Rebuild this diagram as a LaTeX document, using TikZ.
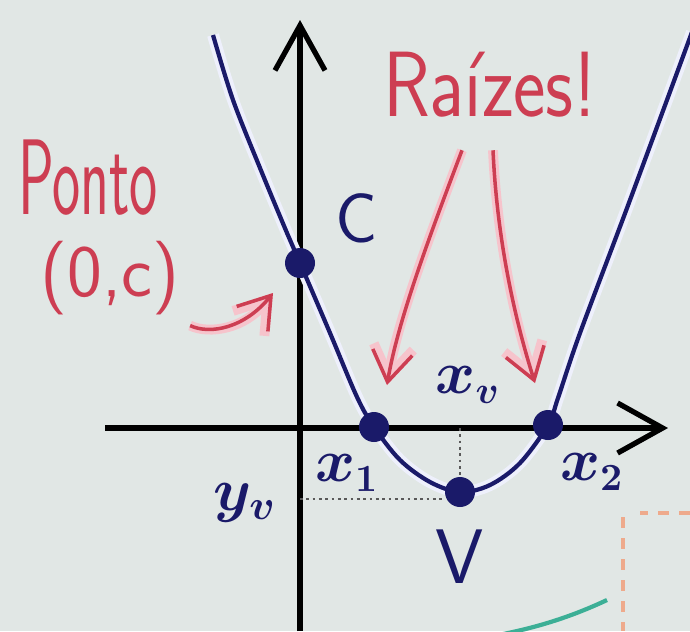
\documentclass[tikz,border=0pt]{standalone}
\usepackage{fontspec}
\usepackage{graphicx}
\usetikzlibrary{arrows.meta,positioning}
\definecolor{board}{RGB}{225,231,229}
\definecolor{navy}{RGB}{26,26,105}
\definecolor{marker}{RGB}{205,62,82}
\definecolor{halo}{RGB}{246,196,204}
\definecolor{glow}{RGB}{238,240,252}
\definecolor{tealmark}{RGB}{60,175,150}
\definecolor{peach}{RGB}{238,170,140}
\newcommand{\tallword}[2]{\scalebox{1}[#1]{#2}}

\begin{document}
\begin{tikzpicture}[x=0.1mm,y=-0.1mm,>=Latex]
  \tikzset{
    axis/.style={line width=1.5pt,black,-{Straight Barb[length=4.5mm,width=5mm]}},
    curve/.style={line width=1.2pt,navy,preaction={draw=glow,line width=3.4pt}},
    dot/.style={circle,fill=navy,inner sep=0pt,minimum size=3mm},
    pinkarrow/.style={line width=1pt,marker,-{Straight Barb[length=3mm,width=4mm]},
      preaction={draw=halo,line width=2.8pt}},
    guide/.style={densely dotted,line width=0.8pt,black!65},
    redword/.style={marker,inner sep=0pt,font=\sffamily\fontsize{#1}{#1}\selectfont},
    blueword/.style={navy,inner sep=0pt,font=\sffamily\fontsize{#1}{#1}\selectfont},
    mathword/.style={navy,inner sep=0pt,font=\fontsize{#1}{#1}\selectfont\boldmath}
  }
  % board and frame
  \fill[board] (0,0) rectangle (690,631);
  \useasboundingbox (0,0) rectangle (690,631);

  % marks of the board behind
  \draw[peach,dashed,line width=1pt] (690,513) -- (640,513);
  \draw[peach,dashed,line width=1pt] (623,517) -- (623,631);
  \draw[tealmark,line width=1.2pt] (607,600) .. controls (560,622) and (520,632) .. (470,640);

  % axes
  \coordinate (xstart) at (105,428);
  \coordinate (xend) at (668,428);
  \coordinate (ystart) at (300,631);
  \coordinate (yend) at (300,20);
  \draw[axis] (xstart) -- (xend);
  \draw[axis] (ystart) -- (yend);

  % the parabola
  \draw[curve] plot[smooth,tension=0.55] coordinates {
    (213,35) (233,100) (260,168) (287,233) (300,263) (330,333) (357,397)
    (374,427) (400,460) (430,482) (460,492) (490,485) (520,463) (548,425)
    (558,398) (580,333) (630,200) (692,32)};

  % marked points
  \node[dot] (C) at (300,263) {};
  \node[dot] (x1) at (374,427) {};
  \node[dot] (vtx) at (460,492) {};
  \node[dot] (x2) at (548,425) {};

  % vertex guides
  \coordinate (yv) at (300,499);
  \draw[guide] (vtx |- xstart) -- (vtx.north);
  \draw[guide] (yv) -- (yv -| vtx.west);

  % labels
  \node[blueword=20] (Clabel) at (357,218) {C};
  \node[blueword=22] (Vlabel) at (460,557) {V};
  \node[mathword=16] (xvlabel) at (468,385) {$x_v$};
  \node[mathword=16] (x1label) at (347,473) {$x_1$};
  \node[mathword=16] (x2label) at (592,472) {$x_2$};
  \node[mathword=18] (yvlabel) at (245,503) {$y_v$};

  % red notes
  \node[redword=17] (ponto) at (88,178) {\tallword{1.8}{Ponto}};
  \node[redword=21] (pc) at (110,278) {(0,c)};
  \node[redword=22] (raizes) at (490,85) {\tallword{1.2}{Raízes!}};

  \coordinate (ctip) at (273,293);
  \coordinate (tipL) at (387,385);
  \coordinate (tipR) at (535,383);
  \draw[pinkarrow] ([xshift=1mm,yshift=-1mm]pc.south east) .. controls (210,335) and (245,328) .. (ctip);
  \draw[pinkarrow] ([xshift=-2.8mm,yshift=-3.2mm]raizes.south) .. controls (430,235) and (398,320) .. (tipL);
  \draw[pinkarrow] ([xshift=0.3mm,yshift=-3.2mm]raizes.south) .. controls (497,240) and (515,320) .. (tipR);
\end{tikzpicture}
\end{document}
